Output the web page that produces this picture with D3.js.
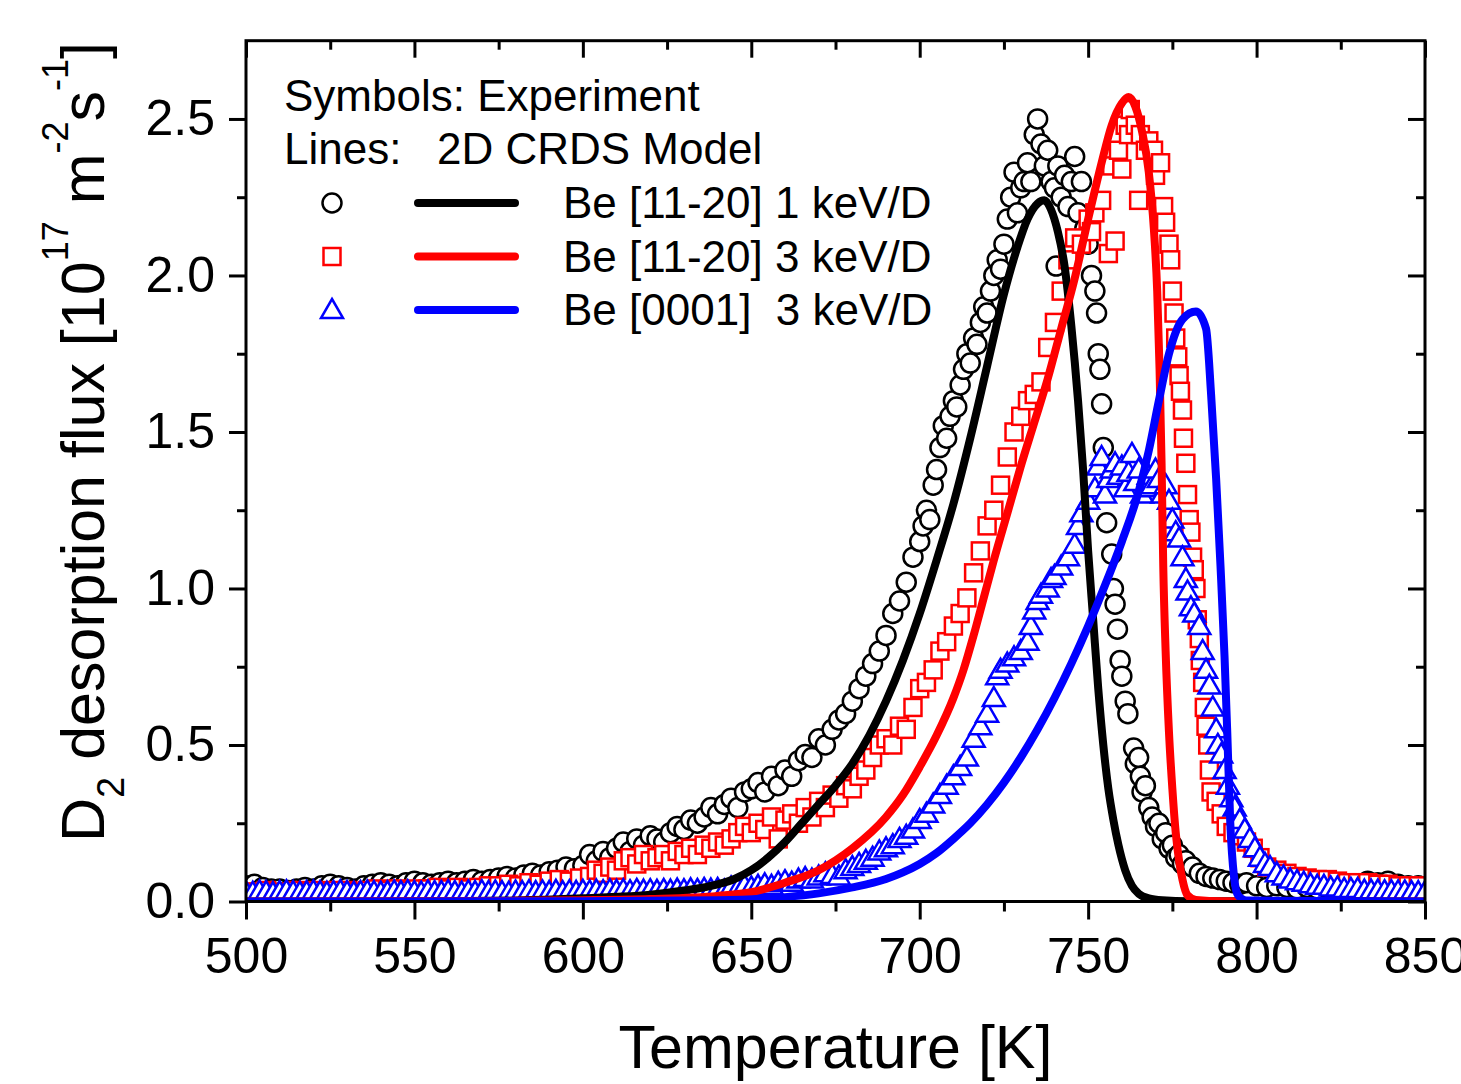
<!DOCTYPE html>
<html>
<head>
<meta charset="utf-8">
<script src="https://cdn.jsdelivr.net/npm/d3@7"></script>
<style>
  body { margin: 0; background: #fff; }
  svg text { font-family: "Liberation Sans", Arial, sans-serif; fill: #000; }
</style>
</head>
<body>
<svg id="chart" width="1461" height="1084"></svg>
<script>
// ---- data: [temperature K, flux 1e17 m^-2 s^-1] ----
var circles1keV = [[500,.05],[502.5,.055],[505,.045],[507.5,.04],[510,.04],[512.5,.035],[515,.04],[517.5,.045],[520,.04],[522.5,.05],[525,.055],[527.5,.05],[530,.045],[532.5,.04],[535,.05],[537.5,.055],[540,.06],[542.5,.055],[545,.05],[547.5,.06],[550,.065],[552.5,.06],[555,.055],[557.5,.06],[560,.065],[562.5,.06],[565,.065],[567.5,.07],[570,.065],[572.5,.07],[575,.075],[577.5,.08],[580,.075],[582.5,.085],[585,.09],[587.5,.085],[590,.095],[592.5,.1],[595,.11],[597.5,.105],[600,.115],
  [602,.15],[604,.13],[606,.16],[608,.14],[610,.17],[612,.19],[614,.16],[616,.2],[618,.18],[620,.21],[622,.2],[624,.19],[626,.22],[628,.24],[630,.23],[632,.26],[634,.25],[636,.27],[638,.3],[640,.28],[642,.31],[644,.33],[646,.3],[648,.35],[650,.36],[652,.38],[654,.35],[656,.4],[658,.37],[660,.42],[662,.4],[664,.45],[666,.47],[668,.46],[670,.52],[672,.5],[674,.55],[676,.58],[678,.6],[680,.64],[682,.68],[684,.72],[686,.76],[688,.8],[690,.85],[692,.92],[694,.96],[696,1.02],[698,1.1],
  [700,1.15],[701,1.2],[702,1.25],[703,1.22],[704,1.33],[705,1.38],[706,1.45],[707,1.52],[708,1.48],[709,1.55],[710,1.6],[711,1.58],[712,1.65],[713,1.7],[714,1.75],[715,1.72],[716,1.8],[717,1.78],[718,1.85],[719,1.9],[720,1.88],[721,1.95],[722,2.0],[723,2.05],[724,2.02],[725,2.1],[726,2.18],[727,2.25],[728,2.33],[729,2.2],[730,2.28],[731,2.3],[732,2.36],[733,2.3],[734,2.45],[735,2.5],[736,2.42],[737,2.35],[738,2.4],[739,2.3],[740,2.28],[740.5,2.03],[741,2.35],[742,2.25],[743,2.32],[744,2.22],[745,2.3],[746,2.38],[747,2.2],[748,2.3],[749,2.15],[750,2.1],
  [751,2.0],[752,1.95],[752.5,1.88],[753,1.75],[753.5,1.7],[754,1.59],[754.5,1.45],[755.5,1.21],[757,1.11],[757.5,1.0],[758,.95],[758.7,.87],[759.5,.77],[760,.72],[761,.64],[761.8,.6],[763.5,.49],[764,.44],[765,.46],[765.5,.4],[766,.35],[767,.37],[768,.3],[769,.27],[770,.24],[771,.25],[772,.2],[773,.22],[774,.17],[775,.18],[776,.14],[777,.15],[778,.12],[779,.13],[781,.11],[783,.09],[785,.08],[787,.075],[789,.07],[791,.065],[793,.06],[795,.055],[797,.06],[800,.05],[803,.045],[806,.05],[809,.045],[812,.04],[815,.045],[818,.04],[821,.045],[824,.05],[827,.045],[830,.05],[833,.065],[836,.06],[839,.065],[842,.055],[845,.05],[848,.05]];

var squares3keV = [[500,.03],[503,.03],[506,.035],[509,.03],[512,.03],[515,.035],[518,.03],[521,.035],[524,.03],[527,.035],[530,.035],[533,.03],[536,.035],[539,.04],[542,.035],[545,.04],[548,.035],[551,.04],[554,.04],[557,.045],[560,.04],[563,.045],[566,.04],[569,.045],[572,.05],[575,.05],[578,.055],[581,.05],[584,.06],[587,.055],[590,.065],[593,.07],[596,.065],[599,.075],
  [602,.08],[604,.1],[606,.09],[608,.11],[610,.1],[612,.13],[614,.14],[616,.12],[618,.15],[620,.13],[622,.14],[624,.15],[626,.13],[628,.16],[630,.15],[632,.17],[634,.15],[636,.18],[638,.17],[640,.19],[642,.18],[644,.2],[646,.22],[648,.24],[650,.22],[652,.25],[654,.23],[656,.27],[658,.2],[660,.26],[662,.28],[664,.25],[666,.3],[668,.27],[670,.32],[672,.3],[674,.34],[676,.33],[678,.37],[680,.36],[682,.4],[684,.42],[686,.46],[688,.5],[690,.52],[692,.5],[694,.56],[696,.55],[698,.62],
  [700,.68],[702,.7],[704,.74],[706,.8],[708,.83],[710,.88],[712,.92],[714,.97],[716,1.05],[718,1.12],[720,1.2],[722,1.25],[724,1.33],[726,1.42],[728,1.5],[730,1.55],[732,1.6],[734,1.62],[736,1.66],[738,1.77],[740,1.85],[742,1.95],[744,2.05],[746,2.12],[748,2.1],[750,2.18],[751,2.14],[752,2.2],[754,2.24],[756,2.07],[757,2.35],[758,2.11],[759,2.4],[760,2.34],[761,2.48],[762,2.45],[762.5,2.53],[764,2.48],[765,2.24],[765.5,2.45],[767,2.4],[768,2.43],[769.4,2.4],[770,2.32],[771.5,2.36],[772.4,2.22],[773,2.17],[774,2.1],[774.5,2.05],[775,1.95],[775.5,1.88],[776,1.8],[776.6,1.74],[777,1.68],[777.4,1.63],[778,1.57],[778.3,1.48],[779,1.4],[779.5,1.3],[780,1.22],[780.5,1.18],[781,1.1],[781.5,1.06],[782,1.0],[782.4,.9],[783,.84],[783.3,.77],[784,.7],[784.5,.62],[785,.56],[785.5,.5],[786,.42],[786.5,.35],[788,.32],[789.5,.28],[791,.24],[793,.22],[795,.21],[797,.19],[799,.17],[801,.14],[803,.11],[806,.1],[809,.09],[812,.08],[815,.075],[818,.07],[821,.07],[824,.065],[827,.06],[830,.06],[833,.06],[836,.055],[839,.055],[842,.05],[845,.05],[848,.05]];

var triangles0001 = [[500,.03],[502,.028],[504,.032],[506,.03],[508,.027],[510,.03],[512,.033],[514,.03],[516,.028],[518,.03],[520,.032],[522,.03],[524,.028],[526,.03],[528,.033],[530,.03],[532,.028],[534,.03],[536,.032],[538,.03],[540,.028],[542,.03],[544,.032],[546,.03],[548,.033],[550,.03],[552,.028],[554,.032],[556,.03],[558,.03],[560,.033],[562,.03],[564,.028],[566,.032],[568,.03],[570,.033],[572,.03],[574,.032],[576,.03],[578,.028],[580,.032],[582,.03],[584,.033],[586,.03],[588,.032],[590,.03],[592,.034],[594,.03],[596,.033],[598,.031],[600,.034],[602,.032],[604,.035],[606,.033],[608,.036],[610,.034],[612,.036],[614,.033],[616,.037],[618,.035],[620,.036],[622,.034],[624,.037],[626,.035],[628,.038],[630,.036],[632,.039],[634,.037],[636,.04],[638,.038],
  [640,.04],[642,.035],[644,.045],[646,.04],[648,.05],[650,.045],[652,.05],[654,.055],[656,.05],[658,.06],[660,.065],[662,.06],[664,.07],[666,.075],[668,.07],[670,.08],[672,.09],[674,.085],[676,.08],[678,.1],[680,.11],[682,.12],[684,.13],[686,.14],[688,.16],[690,.17],[692,.18],[694,.2],[696,.21],[698,.23],[700,.26],[702,.28],[704,.31],[706,.34],[708,.37],[710,.4],[712,.43],[714,.46],[716,.52],[718,.56],[720,.6],[722,.65],[723,.72],[724,.74],[726,.76],[728,.78],[730,.8],[732,.83],[733,.88],[734,.93],[735,.96],[736,.98],[738,1.0],[739,1.03],[740,1.04],[742,1.07],[744,1.1],[746,1.14],[747,1.2],[748,1.24],[750,1.28],[752,1.32],[753,1.39],[754,1.42],[755,1.3],[756,1.35],[757,1.38],[758,1.4],[759,1.36],[760,1.39],[761,1.32],[762,1.37],[763,1.43],[764,1.34],[765,1.38],[766,1.3],[767,1.32],[768,1.36],[769,1.33],[770,1.38],[771,1.35],[772,1.3],[773,1.33],[774,1.28],[775,1.22],[776,1.18],[777,1.16],[778,1.1],[779,1.03],[779.5,.99],[780.5,.94],[781.5,.92],[783,.88],[784,.8],[785,.74],[786,.69],[787,.62],[788,.55],[788.5,.5],[789.5,.47],[790.5,.42],[791.5,.37],[792.5,.33],[793.5,.3],[795,.26],[796.5,.23],[798,.2],[799.5,.17],[801,.14],[802.5,.12],[804,.11],[806,.09],[808,.08],[810,.07],[812,.065],[814,.06],[816,.055],[818,.05],[820,.05],[822,.045],[824,.045],[826,.04],[828,.04],[830,.04],[832,.035],[834,.035],[836,.035],[838,.033],[840,.033],[842,.032],[844,.032],[846,.03],[848,.03],[850,.03]];

// 2D CRDS model curves
var model1keV = [[500,0],[560,.001],[580,.003],[600,.01],[610,.015],[620,.022],[630,.035],[640,.055],[645,.072],[650,.1],[655,.14],[660,.19],[665,.25],[670,.31],[675,.37],[680,.44],[685,.53],[690,.64],[695,.77],[700,.92],[705,1.09],[710,1.27],[715,1.48],[720,1.71],[725,1.94],[729,2.09],[732,2.18],[735,2.23],[737,2.24],[739,2.21],[741,2.14],[743,2.03],[745,1.84],[747,1.6],[748.5,1.38],[750,1.12],[751.5,.9],[753,.68],[754.5,.5],[756,.36],[757.5,.26],[759,.18],[761,.1],[763,.05],[765,.025],[768,.01],[772,.004],[780,.001],[850,0]];
var model3keV = [[500,0],[580,.002],[600,.004],[620,.008],[640,.018],[650,.03],[660,.06],[670,.1],[680,.17],[690,.27],[695,.34],[700,.43],[705,.53],[710,.65],[713,.74],[716,.85],[719,.97],[722,1.09],[726,1.24],[730,1.39],[734,1.53],[738,1.67],[742,1.83],[746,1.99],[750,2.18],[754,2.36],[757,2.48],[760,2.55],[762,2.57],[764,2.54],[766,2.46],[768,2.33],[769.5,2.15],[770.5,1.95],[771.2,1.7],[771.8,1.4],[772.3,1.07],[773,.8],[774,.54],[775,.36],[776,.22],[777,.13],[778,.07],[779.5,.02],[782,.005],[790,.001],[850,0]];
var model0001 = [[500,0],[600,.001],[640,.004],[660,.014],[670,.026],[680,.045],[690,.072],[695,.093],[700,.12],[705,.155],[710,.2],[715,.25],[720,.31],[725,.38],[730,.46],[735,.55],[740,.65],[745,.76],[750,.88],[755,1.01],[760,1.15],[765,1.31],[768,1.44],[771,1.6],[774,1.75],[778,1.86],[782,1.885],[785,1.83],[786.5,1.62],[788,1.35],[789.3,1.07],[790.5,.78],[791.3,.54],[792.2,.25],[793.3,.08],[794.5,.02],[797,.003],[850,0]];

var xMajor = [500, 550, 600, 650, 700, 750, 800, 850];
var xMinor = [525, 575, 625, 675, 725, 775, 825];
var yMajor = [0, 0.5, 1.0, 1.5, 2.0, 2.5];
var yMinor = [0.25, 0.75, 1.25, 1.75, 2.25];

var legendRows = [
  { label: "Be [11-20] 1 keV/D", color: "#000000", symbol: "circle" },
  { label: "Be [11-20] 3 keV/D", color: "#ff0000", symbol: "square" },
  { label: "Be [0001]  3 keV/D", color: "#0000ff", symbol: "triangle" }
];

// ---- chart ----
var svg = d3.select("#chart");
var pLeft = 246, pRight = 1425, pTop = 40.7, pBottom = 901.5;

var x = d3.scaleLinear().domain([500, 850]).range([pLeft, pRight]);
var y = d3.scaleLinear().domain([0, 2.75]).range([pBottom, pTop]);

svg.append("defs").append("clipPath").attr("id", "plotclip")
  .append("rect")
    .attr("x", pLeft).attr("y", pTop)
    .attr("width", pRight - pLeft).attr("height", pBottom - pTop);

var plot = svg.append("g").attr("clip-path", "url(#plotclip)");

function drawSymbol(g, kind, color) {
  if (kind === "circle") {
    g.append("circle").attr("r", 9.5);
  } else if (kind === "square") {
    g.append("rect").attr("x", -8.5).attr("y", -8.5).attr("width", 17).attr("height", 17);
  } else {
    g.append("path").attr("d", "M0,-11L11,8L-11,8Z");
  }
  g.selectAll("*")
    .attr("fill", "#fff")
    .attr("stroke", color)
    .attr("stroke-width", 2.5);
}

function scatter(data, kind, color) {
  plot.append("g").selectAll("g")
    .data(data)
    .enter()
    .append("g")
      .attr("transform", function (d) { return "translate(" + x(d[0]) + "," + y(d[1]) + ")"; })
      .each(function () { drawSymbol(d3.select(this), kind, color); });
}

scatter(circles1keV, "circle", "#000000");
scatter(squares3keV, "square", "#ff0000");
scatter(triangles0001, "triangle", "#0000ff");

var line = d3.line()
  .x(function (d) { return x(d[0]); })
  .y(function (d) { return y(d[1]); })
  .curve(d3.curveMonotoneX);

[[model1keV, "#000000"], [model3keV, "#ff0000"], [model0001, "#0000ff"]]
  .forEach(function (s) {
    plot.append("path")
      .attr("d", line(s[0]))
      .attr("fill", "none")
      .attr("stroke", s[1])
      .attr("stroke-width", 8)
      .attr("stroke-linejoin", "round");
  });

// ---- axes ----
function styleAxis(g, size) {
  g.select(".domain").remove();
  g.selectAll("line").attr("stroke", "#000").attr("stroke-width", 3);
  g.selectAll("text").attr("font-size", size || 50).attr("fill", "#000")
    .attr("font-family", "Liberation Sans, Arial, sans-serif");
}

svg.append("g").attr("transform", "translate(0," + pBottom + ")")
  .call(d3.axisBottom(x).tickValues(xMajor).tickSize(18).tickPadding(18).tickFormat(d3.format("d")))
  .call(styleAxis);
svg.append("g").attr("transform", "translate(0," + pBottom + ")")
  .call(d3.axisBottom(x).tickValues(xMinor).tickSize(10).tickFormat(""))
  .call(styleAxis);
svg.append("g").attr("transform", "translate(0," + pTop + ")")
  .call(d3.axisTop(x).tickValues(xMajor).tickSize(-17).tickFormat(""))
  .call(styleAxis);
svg.append("g").attr("transform", "translate(0," + pTop + ")")
  .call(d3.axisTop(x).tickValues(xMinor).tickSize(-9).tickFormat(""))
  .call(styleAxis);

svg.append("g").attr("transform", "translate(" + pLeft + ",0)")
  .call(d3.axisLeft(y).tickValues(yMajor).tickSize(17).tickPadding(14).tickFormat(d3.format(".1f")))
  .call(styleAxis);
svg.append("g").attr("transform", "translate(" + pLeft + ",0)")
  .call(d3.axisLeft(y).tickValues(yMinor).tickSize(9).tickFormat(""))
  .call(styleAxis);
svg.append("g").attr("transform", "translate(" + pRight + ",0)")
  .call(d3.axisRight(y).tickValues(yMajor).tickSize(-17).tickFormat(""))
  .call(styleAxis);
svg.append("g").attr("transform", "translate(" + pRight + ",0)")
  .call(d3.axisRight(y).tickValues(yMinor).tickSize(-9).tickFormat(""))
  .call(styleAxis);

svg.append("rect")
  .attr("x", pLeft).attr("y", pTop)
  .attr("width", pRight - pLeft).attr("height", pBottom - pTop)
  .attr("fill", "none").attr("stroke", "#000").attr("stroke-width", 3);

// axis titles
svg.append("text")
  .attr("x", (pLeft + pRight) / 2).attr("y", 1068)
  .attr("text-anchor", "middle").attr("font-size", 61)
  .text("Temperature [K]");

var yt = svg.append("text")
  .attr("transform", "translate(104,442) rotate(-90)")
  .attr("text-anchor", "middle").attr("font-size", 61);
yt.append("tspan").text("D");
yt.append("tspan").attr("font-size", 38).attr("dy", 20).text("2");
yt.append("tspan").attr("dy", -20).text(" desorption flux [10");
yt.append("tspan").attr("font-size", 36).attr("dy", -36).text("17");
yt.append("tspan").attr("dy", 36).text(" m");
yt.append("tspan").attr("font-size", 36).attr("dy", -36).text("-2");
yt.append("tspan").attr("dy", 36).text("s");
yt.append("tspan").attr("font-size", 36).attr("dy", -36).text("-1");
yt.append("tspan").attr("dy", 36).text("]");

// ---- legend ----
var lg = svg.append("g").attr("font-size", 44);
lg.append("text").attr("x", 284).attr("y", 111).text("Symbols: Experiment");
lg.append("text").attr("x", 284).attr("y", 164).text("Lines:");
lg.append("text").attr("x", 437).attr("y", 164).text("2D CRDS Model");

legendRows.forEach(function (r, i) {
  var cy = 203 + i * 53.5;
  var sg = lg.append("g").attr("transform", "translate(332," + cy + ")");
  drawSymbol(sg, r.symbol, r.color);
  lg.append("line")
    .attr("x1", 418).attr("x2", 515).attr("y1", cy).attr("y2", cy)
    .attr("stroke", r.color).attr("stroke-width", 8).attr("stroke-linecap", "round");
  lg.append("text")
    .attr("x", 563).attr("y", cy + 15)
    .style("white-space", "pre")
    .text(r.label);
});
</script>
</body>
</html>
